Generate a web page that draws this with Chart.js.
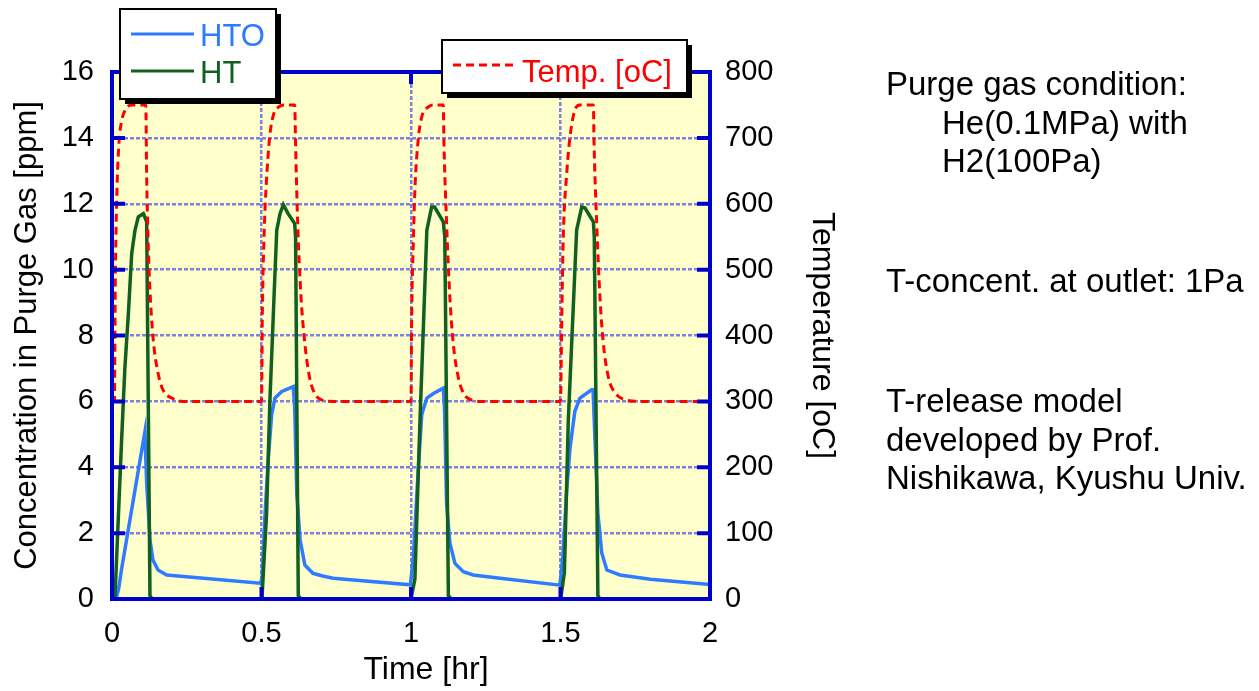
<!DOCTYPE html>
<html>
<head>
<meta charset="utf-8">
<script src="https://cdn.jsdelivr.net/npm/chart.js@4"></script>
<style>
  body { margin: 0; background: #fff; }
  #wrap { position: relative; width: 1259px; height: 691px; }
  .note { position: absolute; left: 886px; font-family: "Liberation Sans", Arial, sans-serif; font-size: 33px; line-height: 38.5px; color: #000; white-space: nowrap; }
  .note .ind { padding-left: 56px; }
</style>
</head>
<body>
<div id="wrap">
  <canvas id="myChart" width="1259" height="691"></canvas>
  <div class="note" style="top:65px">Purge gas condition:<br><span class="ind">He(0.1MPa) with</span><br><span class="ind">H2(100Pa)</span></div>
  <div class="note" style="top:262px">T-concent. at outlet: 1Pa</div>
  <div class="note" style="top:382px">T-release model<br>developed by Prof.<br>Nishikawa, Kyushu Univ.</div>
</div>
<script>
//values: time [hr], HTO / HT [ppm], temperature [oC]
const htoTime = [0, 0.013, 0.022, 0.032, 0.110, 0.116, 0.122, 0.127, 0.137, 0.154, 0.183, 0.495,
    0.502, 0.512, 0.523, 0.534, 0.545, 0.568, 0.606, 0.611, 0.618, 0.629, 0.645, 0.672, 0.705, 0.739, 0.998,
    1.008, 1.024, 1.036, 1.053, 1.075, 1.108, 1.112, 1.119, 1.130, 1.147, 1.175, 1.208, 1.298, 1.498,
    1.508, 1.520, 1.532, 1.548, 1.565, 1.604, 1.609, 1.612, 1.625, 1.638, 1.655, 1.699, 1.800, 2.0];
const htoPpm = [0, 0, 0.3, 0.9, 5.08, 3.5, 2.6, 1.8, 1.18, 0.88, 0.73, 0.48,
    0.6, 2.6, 4.3, 5.6, 6.1, 6.3, 6.45, 5.8, 3.2, 1.8, 1.03, 0.78, 0.70, 0.63, 0.43,
    1.28, 3.9, 5.6, 6.1, 6.24, 6.4, 5.8, 2.9, 1.7, 1.08, 0.83, 0.73, 0.63, 0.42,
    1.3, 3.2, 4.6, 5.7, 6.1, 6.35, 6.35, 5.6, 2.6, 1.4, 0.88, 0.73, 0.60, 0.44];

const htTime = [0, 0.010, 0.032, 0.043, 0.055, 0.066, 0.077, 0.088, 0.105, 0.116, 0.127, 0.135, 0.500,
    0.502, 0.517, 0.528, 0.542, 0.551, 0.562, 0.573, 0.589, 0.611, 0.614, 0.623, 0.632, 1.0,
    1.002, 1.013, 1.030, 1.053, 1.069, 1.079, 1.108, 1.113, 1.125, 1.135, 1.5,
    1.502, 1.513, 1.526, 1.554, 1.571, 1.582, 1.610, 1.613, 1.625, 1.632, 2.0];
const htPpm = [0, 0.07, 4.8, 7.0, 8.7, 10.5, 11.2, 11.6, 11.7, 11.45, 0.1, 0, 0,
    0.1, 2.6, 6.0, 9.2, 11.2, 11.7, 11.97, 11.7, 11.4, 11.0, 0.1, 0, 0,
    0.1, 0.6, 5.4, 11.2, 11.9, 11.9, 11.45, 11.0, 0.1, 0, 0,
    0.1, 0.8, 5.4, 11.2, 11.9, 11.87, 11.45, 11.0, 0.1, 0, 0];

const tempTime = [0, 0.008, 0.011, 0.016, 0.023, 0.032, 0.045, 0.065, 0.113, 0.116, 0.121, 0.127, 0.137, 0.154, 0.171, 0.200, 0.237,
    0.500, 0.503, 0.510, 0.516, 0.527, 0.540, 0.558, 0.574, 0.611, 0.614, 0.621, 0.632, 0.644, 0.660, 0.677, 0.703, 0.740,
    1.000, 1.002, 1.008, 1.013, 1.024, 1.036, 1.058, 1.074, 1.108, 1.110, 1.119, 1.130, 1.141, 1.158, 1.175, 1.203, 1.241,
    1.500, 1.504, 1.509, 1.521, 1.532, 1.548, 1.565, 1.610, 1.612, 1.621, 1.632, 1.643, 1.660, 1.682, 1.721, 1.755, 2.0];
const tempC = [300, 300, 480, 610, 690, 725, 743, 750, 750, 640, 540, 469, 398, 343, 317, 305, 300,
    300, 440, 570, 630, 700, 735, 747, 750, 750, 690, 570, 460, 392, 338, 313, 302, 300,
    300, 419, 545, 621, 697, 732, 747, 750, 750, 697, 571, 458, 389, 337, 313, 302, 300,
    300, 419, 545, 647, 702, 742, 750, 750, 697, 571, 458, 389, 337, 313, 302, 300, 300];

const xTicks = [0, 0.5, 1, 1.5, 2];

//colors
const blue = '#2F7BFF';
const green = '#11601F';
const red = '#FF0000';
const frameBlue = '#0000CC';
const gridBlue = 'rgba(95,95,230,0.8)';
const fontFam = '"Liberation Sans", Arial, sans-serif';

//zip two arrays into {x,y}
function points(xs, ys){
    let data = [];
    for(let i=0;i<xs.length;i++){
        data.push({x: xs[i], y: ys[i]});
    }
    return data;
}

//yellow plot background, blue frame with inner ticks, legend boxes, x title
const decor = {
    id: 'decor',
    beforeDraw(chart){
        const a = chart.chartArea, c = chart.ctx;
        c.save();
        c.fillStyle = '#FFFFCC';
        c.fillRect(a.left, a.top, a.right-a.left, a.bottom-a.top);
        c.restore();
    },
    afterDatasetsDraw(chart){
        const a = chart.chartArea, c = chart.ctx;
        const sx = chart.scales.x, sy = chart.scales.y;
        c.save();
        c.strokeStyle = frameBlue;
        c.lineWidth = 4;
        c.beginPath();
        for(let v=2; v<16; v+=2){
            let py = sy.getPixelForValue(v);
            c.moveTo(a.left, py); c.lineTo(a.left+13, py);
            c.moveTo(a.right, py); c.lineTo(a.right-13, py);
        }
        for(let v of [0.5, 1, 1.5]){
            let px = sx.getPixelForValue(v);
            c.moveTo(px, a.bottom); c.lineTo(px, a.bottom-12);
            c.moveTo(px, a.top); c.lineTo(px, a.top+12);
        }
        c.stroke();
        c.strokeRect(a.left, a.top, a.right-a.left, a.bottom-a.top);
        c.restore();
    },
    afterDraw(chart){
        const c = chart.ctx;
        function box(x, y, w, h){
            c.fillStyle = '#000';
            c.fillRect(x+5, y+5, w, h);
            c.fillStyle = '#fff';
            c.fillRect(x, y, w, h);
            c.strokeStyle = '#000';
            c.lineWidth = 2;
            c.strokeRect(x, y, w, h);
        }
        c.save();
        c.font = '31px ' + fontFam;
        c.textBaseline = 'alphabetic';
        box(120, 9, 156, 90);
        c.lineWidth = 3;
        c.strokeStyle = blue;
        c.beginPath(); c.moveTo(131, 34); c.lineTo(194, 34); c.stroke();
        c.strokeStyle = green;
        c.beginPath(); c.moveTo(131, 71); c.lineTo(194, 71); c.stroke();
        c.fillStyle = blue; c.fillText('HTO', 200, 46);
        c.fillStyle = green; c.fillText('HT', 200, 83);
        box(442, 40, 245, 53);
        c.strokeStyle = red;
        c.lineWidth = 3;
        c.setLineDash([8, 5]);
        c.beginPath(); c.moveTo(453, 65); c.lineTo(517, 65); c.stroke();
        c.setLineDash([]);
        c.fillStyle = red; c.fillText('Temp. [oC]', 522, 82);
        //x axis title, a little right of centre as in the source
        c.font = '32px ' + fontFam;
        c.fillStyle = '#000';
        c.textAlign = 'center';
        c.fillText('Time [hr]', 426, 679);
        c.restore();
    }
};

const data = {
    datasets: [
        {
            label: 'HTO',
            data: points(htoTime, htoPpm),
            borderColor: blue,
            borderWidth: 3.5,
            yAxisID: 'y',
            order: 3
        },
        {
            label: 'HT',
            data: points(htTime, htPpm),
            borderColor: green,
            borderWidth: 3.5,
            yAxisID: 'y',
            order: 2
        },
        {
            label: 'Temp. [oC]',
            data: points(tempTime, tempC),
            borderColor: red,
            borderWidth: 3,
            borderDash: [8, 5],
            cubicInterpolationMode: 'monotone',
            yAxisID: 'y1',
            order: 1
        }
    ]
};

const config = {
    type: 'line',
    data: data,
    plugins: [decor],
    options: {
        responsive: false,
        animation: false,
        events: [],
        elements: { point: { radius: 0 }, line: { tension: 0 } },
        layout: { padding: { top: 72, right: 419, bottom: 0, left: 0 } },
        plugins: {
            legend: { display: false },
            tooltip: { enabled: false }
        },
        scales: {
            x: {
                type: 'linear',
                min: 0,
                max: 2,
                afterBuildTicks: function(scale){ scale.ticks = xTicks.map(v => ({value: v})); },
                afterFit: function(scale){ scale.height = 92; },
                ticks: {
                    color: '#000',
                    padding: 18,
                    font: { size: 29, family: fontFam },
                    callback: v => '' + v
                },
                grid: { color: gridBlue, lineWidth: 2.5, drawTicks: false },
                border: { display: false, dash: [4, 2] }
            },
            y: {
                position: 'left',
                min: 0,
                max: 16,
                afterFit: function(scale){ scale.width = 112; },
                ticks: {
                    stepSize: 2,
                    color: '#000',
                    padding: 18,
                    font: { size: 29, family: fontFam }
                },
                grid: { color: gridBlue, lineWidth: 2.5, drawTicks: false },
                border: { display: false, dash: [4, 2] },
                title: {
                    display: true,
                    text: 'Concentration in Purge Gas [ppm]',
                    color: '#000',
                    font: { size: 31, family: fontFam, lineHeight: 1 },
                    padding: { top: 12, bottom: 0 }
                }
            },
            y1: {
                position: 'right',
                min: 0,
                max: 800,
                afterFit: function(scale){ scale.width = 130; },
                ticks: {
                    stepSize: 100,
                    color: '#000',
                    padding: 15,
                    font: { size: 29, family: fontFam }
                },
                grid: { display: false, drawTicks: false },
                border: { display: false },
                title: {
                    display: true,
                    text: 'Temperature [oC]',
                    color: '#000',
                    font: { size: 32, family: fontFam, lineHeight: 1 },
                    padding: { top: 2, bottom: 0 }
                }
            }
        }
    }
};

const ctx = document.getElementById('myChart').getContext('2d');
const myChart = new Chart(ctx, config);
</script>
</body>
</html>
